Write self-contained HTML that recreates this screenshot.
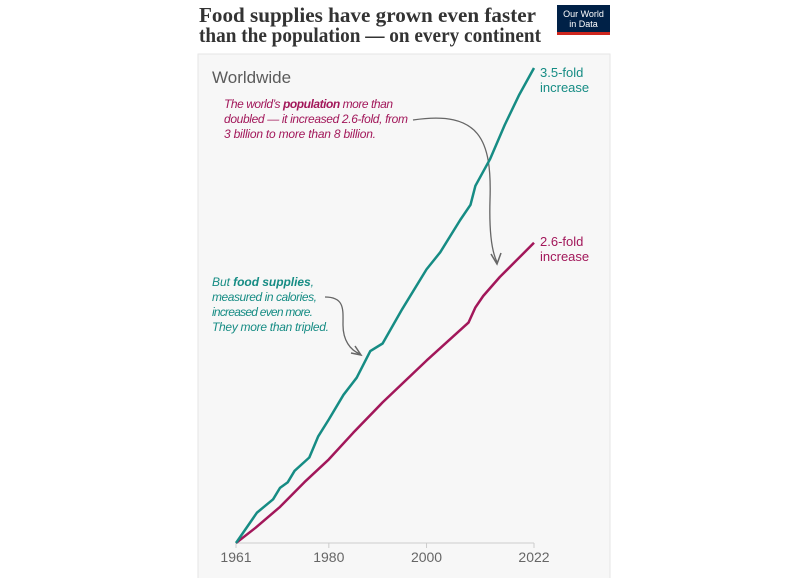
<!DOCTYPE html>
<html><head><meta charset="utf-8"><style>
body{margin:0;background:#fff;width:799px;height:578px;overflow:hidden;font-family:"Liberation Sans",sans-serif}
</style></head><body>
<svg width="799" height="578" xmlns="http://www.w3.org/2000/svg">
<text x="199" y="22" font-family="Liberation Serif,serif" font-size="21" font-weight="bold" fill="#333" textLength="337" lengthAdjust="spacingAndGlyphs">Food supplies have grown even faster</text>
<text x="199" y="42" font-family="Liberation Serif,serif" font-size="21" font-weight="bold" fill="#333" textLength="342" lengthAdjust="spacingAndGlyphs">than the population — on every continent</text>
<g>
<rect x="557" y="5" width="53" height="30" fill="#002147"/>
<rect x="557" y="32" width="53" height="3" fill="#ce261e"/>
<text x="583.5" y="17" font-size="9" fill="#fff" text-anchor="middle">Our World</text>
<text x="583.5" y="27" font-size="9" fill="#fff" text-anchor="middle">in Data</text>
</g>
<rect x="198" y="54" width="412" height="530" fill="#f7f7f7" stroke="#e6e6e6"/>
<text x="212" y="83" font-size="17" fill="#5b5b5b">Worldwide</text>
<g font-size="12" font-style="italic" fill="#a2175a" lengthAdjust="spacingAndGlyphs">
<text x="224" y="108" textLength="169">The world’s <tspan font-weight="bold">population</tspan> more than</text>
<text x="224" y="123" textLength="184">doubled — it increased 2.6-fold, from</text>
<text x="224" y="138" textLength="152">3 billion to more than 8 billion.</text>
</g>
<g font-size="12" font-style="italic" fill="#168c84">
<text x="212" y="286" textLength="102">But <tspan font-weight="bold">food supplies</tspan>,</text>
<text x="212" y="301" textLength="105">measured in calories,</text>
<text x="212" y="316" textLength="101">increased even more.</text>
<text x="212" y="331" textLength="117">They more than tripled.</text>
</g>
<path d="M413,120 C480,110 492,140 490,200 C489,235 492,252 497,262" fill="none" stroke="#666" stroke-width="1.3"/>
<path d="M491,254 L497,264 L501,253" fill="none" stroke="#666" stroke-width="1.5"/>
<path d="M325,297 C345,297 343,310 343,325 C343,340 350,350 360,354" fill="none" stroke="#666" stroke-width="1.3"/>
<path d="M351,353 L361,355 L355,346" fill="none" stroke="#666" stroke-width="1.5"/>
<g id="axis"></g>
<g id="lines"></g>
<g font-size="13" fill="#168c84">
<text x="540" y="77">3.5-fold</text><text x="540" y="92">increase</text></g>
<g font-size="13" fill="#a2175a">
<text x="540" y="246">2.6-fold</text><text x="540" y="261">increase</text></g>
</svg>
<script>
const foodYears=[1961,1965.3,1968.6,1970,1971.6,1973,1976,1977.8,1980,1983,1985.7,1988.5,1991,1995,2000,2002.8,2006.9,2009,2010,2013,2016,2019,2022];
const foodValues=[1,1.16,1.23,1.29,1.32,1.38,1.45,1.56,1.65,1.78,1.87,2.01,2.05,2.23,2.44,2.53,2.70,2.78,2.88,3.02,3.2,3.36,3.5];
const popYears=[1961,1965,1970,1975,1980,1985,1991,2000,2008.6,2010,2011.6,2015,2018.5,2022];
const popValues=[1,1.08,1.19,1.32,1.44,1.58,1.74,1.96,2.16,2.24,2.30,2.40,2.49,2.58];
const tickYears=[1961,1980,2000,2022];
const NS="http://www.w3.org/2000/svg";
const x=y=>236+(y-1961)*(534-236)/61;
const yv=v=>543-(v-1)*190;
const ax=document.getElementById('axis');
const base=document.createElementNS(NS,'line');
base.setAttribute('x1',x(1961));base.setAttribute('x2',x(2022));base.setAttribute('y1',543);base.setAttribute('y2',543);base.setAttribute('stroke','#ccc');


ax.appendChild(base);
tickYears.forEach(t=>{
 const l=document.createElementNS(NS,'line');
 l.setAttribute('x1',x(t));l.setAttribute('x2',x(t));l.setAttribute('y1',543);l.setAttribute('y2',548);l.setAttribute('stroke','#ccc');
 
 
 ax.appendChild(l);
 const tx=document.createElementNS(NS,'text');
 tx.setAttribute('x',x(t));tx.setAttribute('y',562);tx.setAttribute('text-anchor','middle');tx.setAttribute('font-size','14');tx.setAttribute('fill','#666');
 tx.textContent=t;
 
 
 ax.appendChild(tx);
});
const g=document.getElementById('lines');
function line(xs,vs,color,name){
 const p=document.createElementNS(NS,'path');
 p.setAttribute('d',xs.map((a,i)=>(i?'L':'M')+x(a).toFixed(1)+','+yv(vs[i]).toFixed(1)).join(''));
 p.setAttribute('fill','none');p.setAttribute('stroke',color);p.setAttribute('stroke-width','2.5');p.setAttribute('stroke-linejoin','round');
 
 
 g.appendChild(p);
}
line(popYears,popValues,'#a2175a','population-line');
line(foodYears,foodValues,'#168c84','food-supply-line');
</script>
</body></html>
